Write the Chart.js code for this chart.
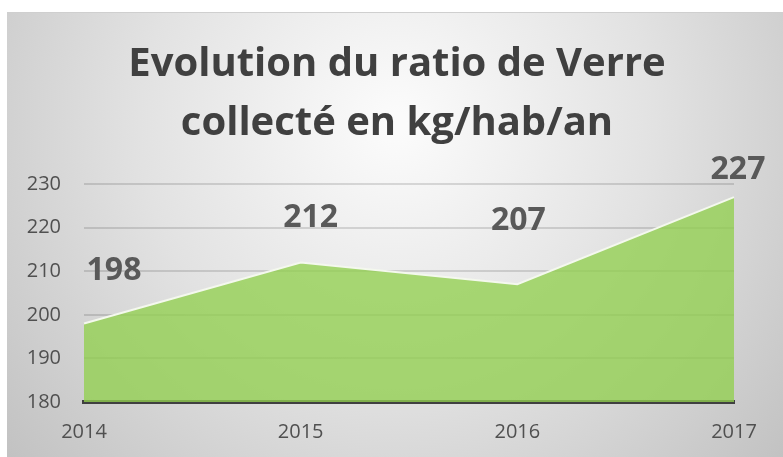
<!DOCTYPE html>
<html>
<head>
<meta charset="utf-8">
<script src="https://cdn.jsdelivr.net/npm/chart.js@4.4.1/dist/chart.umd.min.js"></script>
<style>
  html, body { margin: 0; padding: 0; background: #ffffff; }
  #wrap { position: absolute; left: 7px; top: 12px; width: 776px; height: 445px; border-top: 1px solid #cfcfcf; box-sizing: border-box; }
</style>
</head>
<body>
<div id="wrap"><canvas id="myChart"></canvas></div>
<script>
const years = ["2014", "2015", "2016", "2017"];
const ratioVerre = [198, 212, 207, 227];
const yTicks = [180, 190, 200, 210, 220, 230];

// where each value label sits relative to its point (moved by hand in the original)
const labelShift = [[30, -53], [10, -45], [1, -63], [4, -27]];

const bgPlugin = {
  id: "bg",
  beforeDraw(chart) {
    const c = chart.ctx;
    const w = chart.width, h = chart.height;
    const g = c.createRadialGradient(390, 110, 10, 390, 110, 560);
    g.addColorStop(0, "#fbfbfb");
    g.addColorStop(0.45, "#e2e2e2");
    g.addColorStop(1, "#bcbcbc");
    c.save();
    c.fillStyle = g;
    c.fillRect(0, 0, w, h);
    c.restore();
  },
};

const labelPlugin = {
  id: "valueLabels",
  afterDatasetsDraw(chart) {
    const c = chart.ctx;
    const meta = chart.getDatasetMeta(0);
    c.save();
    c.font = "bold 32px 'Open Sans'";
    c.fillStyle = "#595959";
    c.textAlign = "center";
    c.textBaseline = "middle";
    meta.data.forEach((pt, i) => {
      c.fillText(String(ratioVerre[i]), pt.x + labelShift[i][0], pt.y + labelShift[i][1]);
    });
    c.restore();
  },
};

const ctx = document.getElementById("myChart");

const myChart = new Chart(ctx, {
  type: "line",
  data: {
    labels: years,
    datasets: [
      {
        label: "Verre",
        data: ratioVerre,
        fill: "start",
        backgroundColor: "rgba(146, 208, 80, 0.78)",
        borderColor: "#f4f8ee",
        borderWidth: 2,
        pointRadius: 0,
        tension: 0,
      },
    ],
  },
  options: {
    responsive: true,
    maintainAspectRatio: false,
    animation: false,
    layout: {
      padding: { left: 19, right: 15, top: 0, bottom: 0 },
    },
    plugins: {
      legend: { display: false },
      tooltip: { enabled: false },
      title: {
        display: true,
        text: ["Evolution du ratio de Verre", "collecté en kg/hab/an"],
        color: "#404040",
        font: { family: "'Open Sans'", size: 40, weight: "bold", lineHeight: 1.475 },
        padding: { top: 22, bottom: 31 },
      },
    },
    scales: {
      x: {
        offset: false,
        grid: { display: false, drawTicks: false },
        border: { display: true, color: "#404040", width: 4 },
        ticks: {
          color: "#505050",
          font: { family: "'Open Sans'", size: 20 },
          padding: 18,
          maxRotation: 0,
        },
        afterFit(axis) {
          axis.height = 55;
        },
      },
      y: {
        min: 180,
        max: 230,
        afterBuildTicks(axis) {
          axis.ticks = yTicks.map((v) => ({ value: v }));
        },
        grid: { color: "rgba(0, 0, 0, 0.13)", lineWidth: 2, drawTicks: false },
        border: { display: false },
        ticks: {
          color: "#505050",
          font: { family: "'Open Sans'", size: 20 },
          padding: 23,
        },
        afterFit(axis) {
          axis.width = 58;
        },
      },
      // empty right-hand strip so the plot ends where the original does
      yRight: {
        position: "right",
        min: 180,
        max: 230,
        grid: { display: false, drawTicks: false },
        border: { display: false },
        ticks: { display: false },
        afterFit(axis) {
          axis.width = 34;
        },
      },
    },
  },
  plugins: [bgPlugin, labelPlugin],
});
</script>
</body>
</html>
